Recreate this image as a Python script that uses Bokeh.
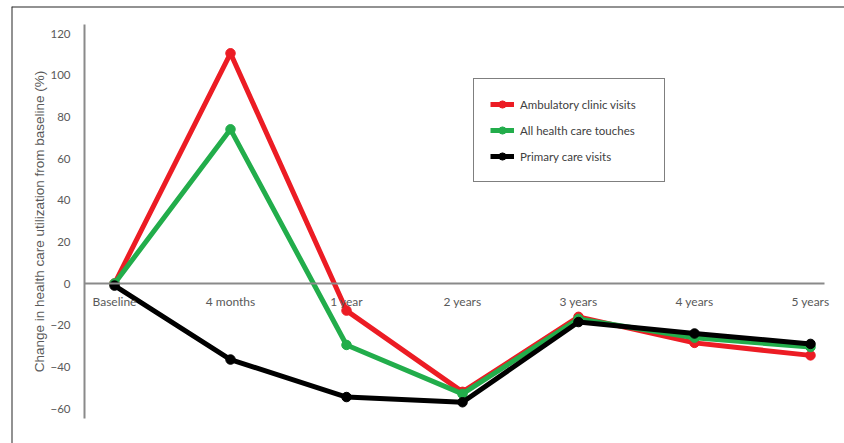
from bokeh.plotting import figure
from bokeh.models import (LinearAxis, FixedTicker, Range1d, Legend, LegendItem, Span,
                          ColumnDataSource)
from bokeh.embed import file_html
from bokeh.resources import INLINE

categories = ["Baseline", "4 months", "1 year", "2 years", "3 years", "4 years", "5 years"]
ambulatory = [0, 110.5, -13, -52, -16, -28.5, -34.5]
all_touches = [0, 74, -29.5, -53, -17, -26, -30.5]
primary = [-1, -36.5, -54.5, -57, -18.5, -24, -29]
y_ticks = [-60, -40, -20, 0, 20, 40, 60, 80, 100, 120]

series_names = ["Ambulatory clinic visits", "All health care touches", "Primary care visits"]
series_values = [ambulatory, all_touches, primary]
series_colors = ["#EC1C24", "#22AD4B", "#000000"]

W, H = 844, 443
p = figure(width=W, height=H, output_backend="svg", toolbar_location=None,
           x_axis_location=None, y_axis_location=None,
           x_range=Range1d(-0.888, 6.293), y_range=Range1d(-76.8, 132.96),
           min_border_left=11, min_border_right=0, min_border_top=6, min_border_bottom=0)
p.outline_line_color = None
p.grid.visible = False
p.background_fill_color = "white"
p.border_fill_color = "white"

x = list(range(len(categories)))

# y axis
yaxis = LinearAxis(fixed_location=-0.2586, bounds=(-64.8, 124.3),
                   ticker=FixedTicker(ticks=y_ticks))
yaxis.axis_line_color = "#8a8a8a"
yaxis.axis_line_width = 2
yaxis.major_tick_line_color = None
yaxis.minor_tick_line_color = None
yaxis.major_label_text_font = "Lato"
yaxis.major_label_text_font_size = "11.5px"
yaxis.major_label_text_color = "#595959"
yaxis.major_label_standoff = 8
yaxis.axis_label = "Change in health care utilization from baseline (%)"
yaxis.axis_label_text_font = "Liberation Sans"
yaxis.axis_label_text_font_size = "13.5px"
yaxis.axis_label_text_font_style = "normal"
yaxis.axis_label_text_color = "#595959"
yaxis.axis_label_standoff = 0
p.add_layout(yaxis, "left")

# x axis
xaxis = LinearAxis(fixed_location=0, bounds=(-0.2586, 6.12),
                   ticker=FixedTicker(ticks=x))
xaxis.major_label_overrides = {i: c for i, c in enumerate(categories)}
xaxis.axis_line_color = "#8a8a8a"
xaxis.axis_line_width = 2
xaxis.major_tick_line_color = None
xaxis.minor_tick_line_color = None
xaxis.major_label_text_font = "Lato"
xaxis.major_label_text_font_size = "12px"
xaxis.major_label_text_color = "#595959"
xaxis.major_label_standoff = 4
p.add_layout(xaxis, "below")

# outer frame lines (top and left)
p.add_layout(Span(location=132.96, dimension="width", line_color="#262626", line_width=2))
p.add_layout(Span(location=-0.888, dimension="height", line_color="#262626", line_width=2))

items = []
for name, vals, col in zip(series_names, series_values, series_colors):
    src = ColumnDataSource(dict(x=x, y=vals))
    ln = p.line("x", "y", source=src, line_color=col, line_width=5)
    sc = p.scatter("x", "y", source=src, size=9.5, fill_color=col, line_color=col)
    items.append(LegendItem(label=name, renderers=[ln, sc]))

legend = Legend(items=items, location=(462, 261))
legend.border_line_color = "#000000"
legend.border_line_width = 1.5
legend.background_fill_color = "white"
legend.background_fill_alpha = 1
legend.label_text_font = "Lato"
legend.label_text_font_size = "11.5px"
legend.label_text_color = "#404040"
legend.glyph_width = 24
legend.glyph_height = 18
legend.label_height = 18
legend.label_width = 128
legend.label_standoff = 6
legend.spacing = 8
legend.padding = 16
legend.margin = 0
p.add_layout(legend, "center")

open("out.html", "w").write(file_html(p, INLINE))
